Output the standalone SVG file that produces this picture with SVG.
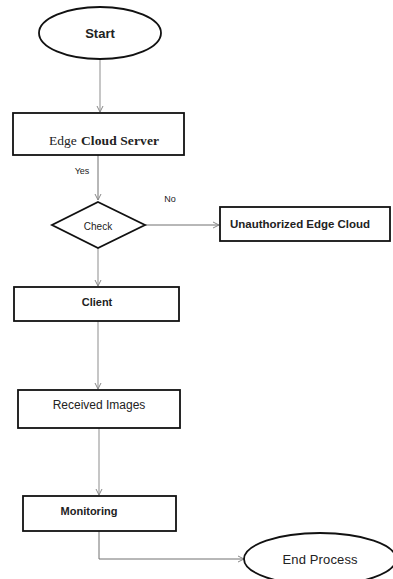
<svg xmlns="http://www.w3.org/2000/svg" width="393" height="579" viewBox="0 0 393 579">
<style>
.box{fill:#fff;stroke:#111;stroke-width:1.8}
.t{font-family:"Liberation Sans",Arial,sans-serif;fill:#222;text-anchor:middle;dominant-baseline:central}
.b{font-weight:bold}
.s{font-family:"Liberation Serif","Times New Roman",serif;text-anchor:start}
.c{fill:none;stroke:#a0a0a0;stroke-width:1.2}
.c2{fill:none;stroke:#707070;stroke-width:1}
</style>
<defs>
<marker id="a" markerWidth="8" markerHeight="8" refX="7" refY="4" orient="auto" markerUnits="userSpaceOnUse">
<path d="M1,1 L7,4 L1,7" fill="none" stroke="#888" stroke-width="1"/>
</marker>
</defs>
<rect width="393" height="579" fill="#fff"/>
<g id="connectors">
<line class="c" x1="100" y1="59" x2="100" y2="112" marker-end="url(#a)"/>
<line class="c2" x1="98" y1="155" x2="98" y2="200" marker-end="url(#a)"/>
<line class="c2" x1="145" y1="225" x2="219" y2="225" marker-end="url(#a)"/>
<line class="c" x1="98" y1="248" x2="98" y2="286" marker-end="url(#a)"/>
<line class="c" x1="98" y1="321" x2="98" y2="389" marker-end="url(#a)"/>
<line class="c" x1="99" y1="428" x2="99" y2="495" marker-end="url(#a)"/>
<polyline class="c2" points="99,531 99,559 244,559" marker-end="url(#a)"/>
<text class="t" x="82" y="171" font-size="9">Yes</text>
<text class="t" x="170" y="199" font-size="9">No</text>
</g>
<g id="start">
<ellipse class="box" cx="100" cy="33" rx="61" ry="26"/>
<text class="t b" x="100" y="33" font-size="13">Start</text>
</g>
<g id="edge-cloud-server">
<rect class="box" x="13" y="113" width="171" height="42"/>
<text class="t s" x="49" y="140" font-size="13.5">Edge</text>
<text class="t s b" x="81" y="140" font-size="13.5" textLength="78">Cloud Server</text>
</g>
<g id="check">
<polygon class="box" points="98,202 145,225 98,248 52,225"/>
<text class="t" x="98" y="226" font-size="10">Check</text>
</g>
<g id="unauthorized">
<rect class="box" x="220" y="207" width="170" height="34"/>
<text class="t b" x="300" y="224" font-size="11.5" textLength="140">Unauthorized Edge Cloud</text>
</g>
<g id="client">
<rect class="box" x="14" y="287" width="165" height="34"/>
<text class="t b" x="97" y="302" font-size="11">Client</text>
</g>
<g id="received-images">
<rect class="box" x="18" y="390" width="162" height="38"/>
<text class="t" x="99" y="405" font-size="12">Received Images</text>
</g>
<g id="monitoring">
<rect class="box" x="23" y="496" width="153" height="35"/>
<text class="t b" x="89" y="511" font-size="11">Monitoring</text>
</g>
<g id="end-process">
<ellipse class="box" cx="320" cy="559" rx="76" ry="26"/>
<text class="t" x="320" y="559" font-size="13" textLength="75">End Process</text>
</g>
</svg>
